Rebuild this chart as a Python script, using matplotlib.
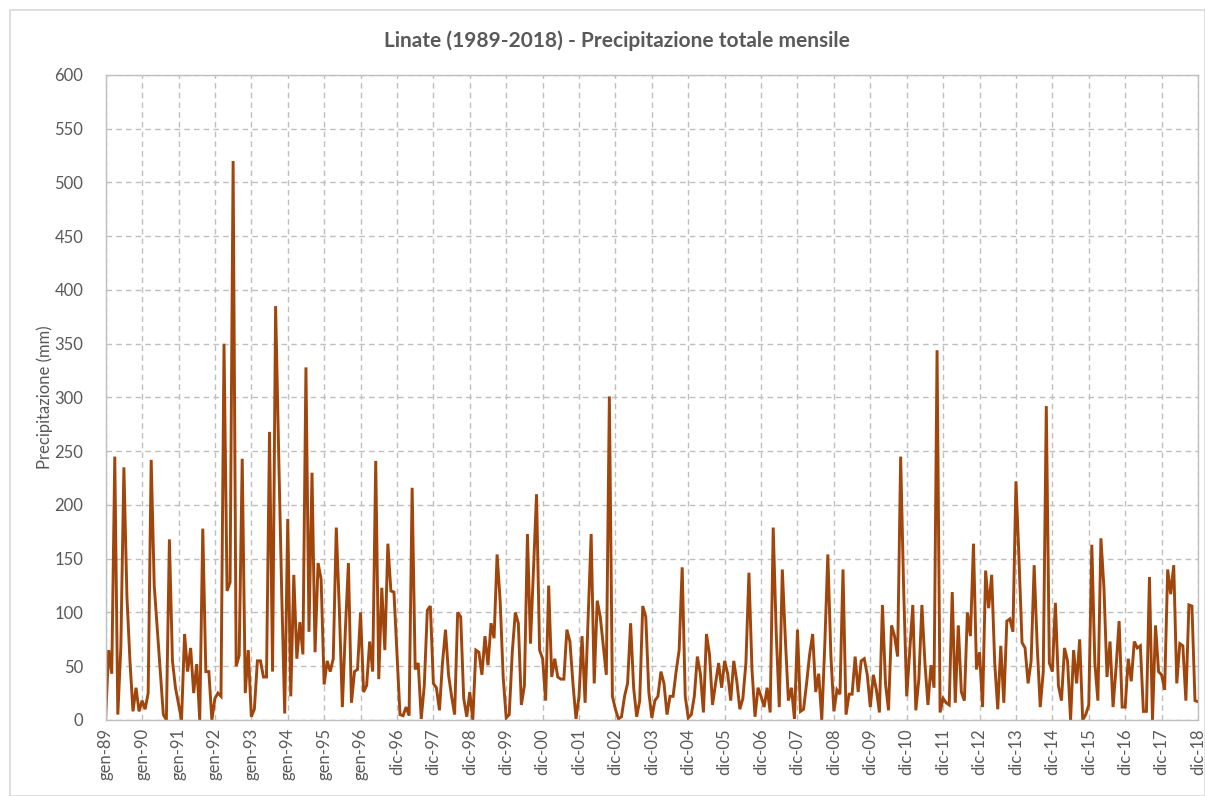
import matplotlib.pyplot as plt
from matplotlib.patches import Rectangle

# precipitazione totale mensile (mm)
prec_89_92 = [3, 65, 43, 245, 5, 68, 235, 115, 55, 8, 30, 8,
              18, 10, 25, 242, 125, 85, 45, 5, 0, 168, 55, 30,
              15, 0, 80, 45, 67, 25, 52, 0, 178, 45, 45, 0,
              20, 25, 22, 350, 120, 128, 520, 50, 60, 243, 25, 65]
prec_93_96 = [3, 10, 55, 55, 40, 40, 268, 45, 385, 250, 120, 6,
              187, 22, 135, 57, 91, 61, 328, 82, 230, 63, 146, 131,
              33, 55, 45, 57, 179, 104, 12, 84, 146, 16, 45, 47,
              100, 26, 32, 73, 45, 241, 38, 123, 65, 164, 120, 119]
prec_97_00 = [61, 5, 4, 12, 4, 216, 47, 53, 1, 32, 102, 106,
              34, 30, 9, 53, 84, 42, 22, 5, 100, 96, 20, 3,
              26, 0, 65, 63, 42, 78, 51, 90, 76, 154, 111, 40,
              2, 5, 63, 100, 90, 14, 32, 173, 71, 140, 210, 65]
prec_01_04 = [57, 18, 125, 40, 57, 40, 38, 38, 84, 73, 34, 1,
              22, 78, 16, 95, 173, 34, 111, 96, 69, 42, 301, 22,
              10, 1, 3, 22, 34, 90, 30, 3, 18, 106, 96, 26,
              2, 18, 22, 45, 34, 5, 22, 22, 45, 65, 142, 22]
prec_05_08 = [2, 5, 22, 59, 43, 7, 80, 61, 14, 34, 53, 30,
              55, 43, 18, 55, 36, 10, 20, 53, 137, 47, 3, 30,
              22, 12, 30, 7, 179, 80, 12, 140, 75, 18, 30, 1,
              84, 8, 10, 34, 61, 80, 26, 43, 0, 70, 154, 60]
prec_09_12 = [8, 28, 24, 140, 5, 24, 24, 59, 26, 55, 57, 42,
              12, 42, 28, 7, 107, 34, 9, 88, 78, 59, 245, 120,
              22, 65, 107, 9, 38, 107, 53, 14, 51, 30, 344, 7,
              20, 16, 14, 119, 16, 88, 26, 18, 100, 78, 164, 47]
prec_13_16 = [63, 12, 139, 104, 135, 53, 10, 69, 16, 92, 94, 82,
              222, 150, 72, 67, 34, 55, 144, 69, 12, 45, 292, 53,
              45, 109, 32, 18, 67, 55, 0, 65, 34, 75, 0, 5,
              14, 163, 53, 18, 169, 123, 40, 73, 12, 49, 92, 12]
prec_17_18 = [12, 57, 36, 73, 67, 69, 8, 8, 133, 0, 88, 45,
              42, 28, 140, 117, 144, 34, 71, 69, 18, 107, 106, 18,
              17]

tick_labels = ['gen-89', 'gen-90', 'gen-91', 'gen-92', 'gen-93', 'gen-94',
               'gen-95', 'gen-96', 'dic-96', 'dic-97', 'dic-98', 'dic-99',
               'dic-00', 'dic-01', 'dic-02', 'dic-03', 'dic-04', 'dic-05',
               'dic-06', 'dic-07', 'dic-08', 'dic-09', 'dic-10', 'dic-11',
               'dic-12', 'dic-13', 'dic-14', 'dic-15', 'dic-16', 'dic-17',
               'dic-18']

prec = (prec_89_92 + prec_93_96 + prec_97_00 + prec_01_04 +
        prec_05_08 + prec_09_12 + prec_13_16 + prec_17_18)
x = list(range(len(prec)))

plt.rcParams['font.family'] = ['Lato', 'DejaVu Sans']
grigio = '#595959'

fig = plt.figure(figsize=(12.05, 7.96), dpi=100)
fig.patches.append(Rectangle((10/1205, 0), 1 - 10/1205, 1 - 10/796,
                             transform=fig.transFigure, fill=False,
                             edgecolor='#D9D9D9', lw=1.2))
ax = fig.add_axes([0.0877, 0.0955, 0.9065, 0.8103])

ax.plot(x, prec, color='#A0460C', lw=2.1, solid_joinstyle='miter')

ax.set_xlim(0, 360)
ax.set_ylim(0, 600)
ax.set_yticks(range(0, 601, 50))
ax.set_xticks(range(0, 361, 12))
ax.set_xticklabels(tick_labels, rotation=90, fontsize=12, color=grigio)
ax.tick_params(axis='y', labelsize=12, labelcolor=grigio, length=0, pad=16)
ax.tick_params(axis='x', length=0, pad=6)
ax.grid(True, color='#BFBFBF', linestyle=(0, (4, 3)), lw=1.0)
for s in ax.spines.values():
    s.set_color('#BFBFBF')
    s.set_linewidth(1.0)

ax.set_ylabel('Precipitazione (mm)', fontsize=12, color=grigio, labelpad=1)
fig.text(0.5118, 0.949, 'Linate (1989-2018) - Precipitazione totale mensile',
         ha='center', va='center', fontsize=15, fontweight='bold', color=grigio)

fig.savefig('out.png', dpi=100)
